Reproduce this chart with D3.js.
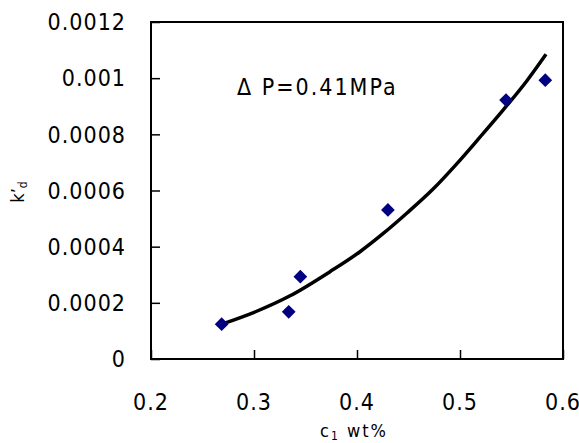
<!DOCTYPE html>
<html>
<head>
<meta charset="utf-8">
<script src="https://cdn.jsdelivr.net/npm/d3@7"></script>
<style>
  body { margin: 0; background: #fff; }
  svg text { font-family: "DejaVu Sans Condensed", "DejaVu Sans", sans-serif; font-stretch: condensed; fill: #000; }
</style>
</head>
<body>
<svg id="chart" width="579" height="443"></svg>
<script>
// Measured concentrations (wt%) and dispersion coefficients
const concentration = [0.2686, 0.3337, 0.345, 0.430, 0.5447, 0.5828];
const kd = [0.000124, 0.000168, 0.000293, 0.000531, 0.000922, 0.000993];

// Fitted trend curve
const fitX = [0.2686, 0.3026, 0.335, 0.3738, 0.4029, 0.4255, 0.4483, 0.4741, 0.4968, 0.5194, 0.542, 0.5648, 0.5835];
const fitY = [0.000124, 0.000170, 0.000225, 0.000311, 0.000382, 0.000447, 0.000519, 0.000606, 0.000695, 0.000790, 0.000887, 0.000990, 0.001085];

const xTicks = [0.2, 0.3, 0.4, 0.5, 0.6];
const yTicks = [0, 0.0002, 0.0004, 0.0006, 0.0008, 0.001, 0.0012];
const annotation = "\u0394 P=0.41MPa";

const svg = d3.select("#chart");
const plot = { left: 151, top: 22, right: 563, bottom: 359 };

const x = d3.scaleLinear().domain([0.2, 0.6]).range([plot.left, plot.right]);
const y = d3.scaleLinear().domain([0, 0.0012]).range([plot.bottom, plot.top]);

// Axes with inward ticks
const xAxis = d3.axisBottom(x).tickValues(xTicks).tickSize(-9).tickFormat("");
const yAxis = d3.axisLeft(y).tickValues(yTicks).tickSize(-9).tickFormat("");

svg.append("g").attr("transform", `translate(0,${plot.bottom})`).call(xAxis)
  .call(g => g.select(".domain").remove())
  .call(g => g.selectAll("line").attr("stroke", "#000").attr("stroke-width", 1.5));
svg.append("g").attr("transform", `translate(${plot.left},0)`).call(yAxis)
  .call(g => g.select(".domain").remove())
  .call(g => g.selectAll("line").attr("stroke", "#000").attr("stroke-width", 1.5));

// Plot frame
svg.append("rect")
  .attr("x", plot.left).attr("y", plot.top)
  .attr("width", plot.right - plot.left).attr("height", plot.bottom - plot.top)
  .attr("fill", "none").attr("stroke", "#000").attr("stroke-width", 2);

// Tick labels
svg.append("g").selectAll("text").data(yTicks).join("text")
  .attr("x", 126).attr("y", d => y(d))
  .attr("dy", "0.36em")
  .attr("text-anchor", "end")
  .attr("font-size", 23)
  .attr("letter-spacing", 1)
  .text(d => d === 0 ? "0" : String(d));

svg.append("g").selectAll("text").data(xTicks).join("text")
  .attr("x", d => x(d)).attr("y", 402)
  .attr("dy", "0.36em")
  .attr("text-anchor", "middle")
  .attr("font-size", 23)
  .attr("letter-spacing", 1)
  .text(d => d.toFixed(1));

// Axis titles
const xt = svg.append("text")
  .attr("x", 354).attr("y", 437)
  .attr("text-anchor", "middle")
  .attr("font-size", 18)
  .attr("letter-spacing", 2);
xt.append("tspan").text("c");
xt.append("tspan").attr("font-size", 12).attr("dy", 3).text("1");
xt.append("tspan").attr("dy", -3).text(" wt%");

const yt = svg.append("text")
  .attr("transform", "translate(24,192) rotate(-90)")
  .attr("text-anchor", "middle")
  .attr("font-size", 18);
yt.append("tspan").text("k\u2019");
yt.append("tspan").attr("font-size", 12).attr("dy", 3).text("d");

// Annotation
svg.append("text")
  .attr("x", 237).attr("y", 95)
  .attr("font-size", 23)
  .attr("letter-spacing", 2)
  .text(annotation);

// Trend curve
const fitData = fitX.map((v, i) => [v, fitY[i]]);
svg.append("path")
  .datum(fitData)
  .attr("d", d3.line().x(d => x(d[0])).y(d => y(d[1])).curve(d3.curveMonotoneX))
  .attr("fill", "none")
  .attr("stroke", "#000")
  .attr("stroke-width", 3.5)
  .attr("stroke-linejoin", "round");

// Data markers
const pts = concentration.map((v, i) => [v, kd[i]]);
svg.append("g").selectAll("path").data(pts).join("path")
  .attr("transform", d => `translate(${x(d[0])},${y(d[1])})`)
  .attr("d", d3.symbol(d3.symbolDiamond2, 120)())
  .attr("fill", "#000080");
</script>
</body>
</html>
